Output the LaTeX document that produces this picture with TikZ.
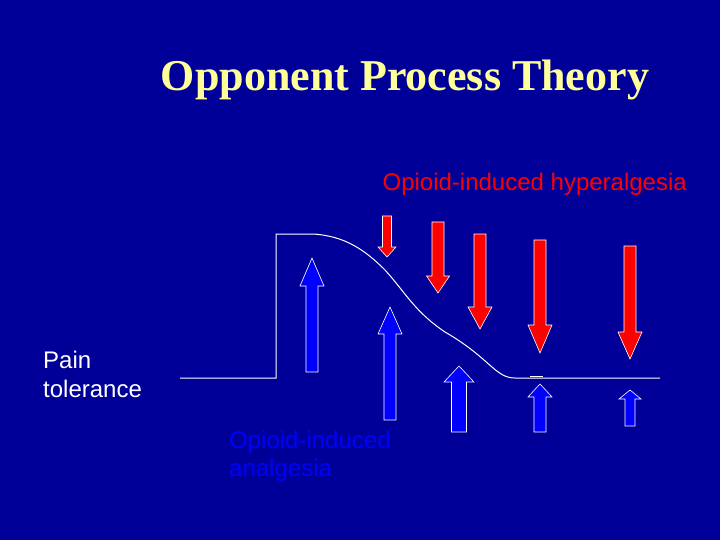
\documentclass[tikz,border=0pt]{standalone}
\usepackage{fontspec}
\setmainfont{Liberation Sans}
\newfontfamily\titlefont{Liberation Serif}
\definecolor{bg}{HTML}{000099}
\definecolor{ttl}{HTML}{FFFF99}
\definecolor{blu}{HTML}{0000FF}
\newcommand\myarr[7]{% fill, cx, base, headstart, tip, half shaft, half head
  \filldraw[fill=#1,draw=white,line width=0.6pt] (#2-#6,#3) -- (#2-#6,#4) -- (#2-#7,#4) -- (#2,#5) -- (#2+#7,#4) -- (#2+#6,#4) -- (#2+#6,#3) -- cycle;}
\begin{document}
\begin{tikzpicture}[x=1pt,y=-1pt]
\useasboundingbox (0,0) rectangle (720,540);
\fill[bg] (0,0) rectangle (720,540);
\node[text=ttl,font=\titlefont\bfseries\fontsize{44}{46}\selectfont,anchor=base] (title) at (405,91) {Opponent Process Theory};
\node[text=red,font=\fontsize{24}{28}\selectfont,anchor=base east,inner sep=0] (hyper) at (687,191) {Opioid-induced hyperalgesia};
\node[text=white,font=\fontsize{24}{29}\selectfont,align=left,anchor=base west,inner sep=0] (pain) at (43,397) {Pain\\tolerance};
\node[text=blu,font=\fontsize{24}{28}\selectfont,align=left,anchor=base west,inner sep=0] (anal) at (229,476) {Opioid-induced\\analgesia};
\draw[white,line width=1pt] (180,378) -- (276,378) -- (276,234) -- (313,234)
  .. controls (345,236) and (365,250) .. (385,270)
  .. controls (405,292) and (415,312) .. (445,332)
  .. controls (490,358) and (495,378) .. (515,378) -- (660,378);
\draw[white,line width=1pt] (530,376) -- (543,376);
\myarr{red}{387}{216}{247}{257}{4.5}{9}
\myarr{red}{438}{222}{276}{293}{6}{11.5}
\myarr{red}{480}{234}{307}{329}{6}{12}
\myarr{red}{540}{240}{325}{353}{6}{12}
\myarr{red}{630}{246}{332}{359}{6}{12}
\myarr{blu}{312}{372}{286}{258}{6}{12}
\myarr{blu}{390}{420}{334}{307}{6}{12}
\myarr{blu}{459}{432}{382}{366}{7.5}{15}
\myarr{blu}{540}{432}{397}{384}{6}{12}
\myarr{blu}{630}{426}{399}{390}{5}{11}
\end{tikzpicture}
\end{document}
